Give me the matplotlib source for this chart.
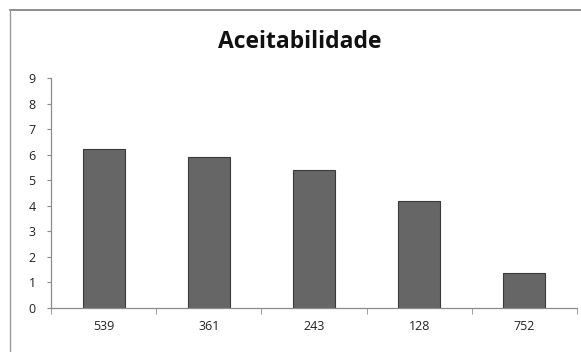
import matplotlib
matplotlib.use("Agg")
import matplotlib.pyplot as plt
from matplotlib.lines import Line2D
import numpy as np

# sample codes and mean acceptability scores
amostras = ["539", "361", "243", "128", "752"]
notas = [6.21, 5.92, 5.40, 4.20, 1.38]

plt.rcParams['font.family'] = ['Open Sans', 'DejaVu Sans']

fig = plt.figure(figsize=(5.81, 3.52), dpi=100)
W, H = 581, 352
ax = fig.add_axes([51 / W, (H - 308) / H, (577 - 51) / W, (308 - 78) / H])

x = np.arange(len(amostras))
ax.bar(x, notas, width=0.4, color="#666666", edgecolor="#3a3a3a", linewidth=0.8)

ax.set_xlim(-0.5, len(amostras) - 0.5)
ax.set_ylim(0, 9)
ax.set_yticks(range(0, 10))
ax.set_xticks(x)
ax.set_xticklabels(amostras)
ax.set_xticks(np.arange(-0.5, len(amostras)), minor=True)

for s in ["top", "right"]:
    ax.spines[s].set_visible(False)
for s in ["left", "bottom"]:
    ax.spines[s].set_color("#8c8c8c")
    ax.spines[s].set_linewidth(0.9)

ax.tick_params(axis="y", which="major", length=3, color="#8c8c8c", labelsize=9, labelcolor="#222222", pad=8)
ax.tick_params(axis="x", which="major", length=0, labelsize=9, labelcolor="#222222", pad=9)
ax.tick_params(axis="x", which="minor", length=4, color="#8c8c8c", direction="out")

fig.text(300 / W, 1 - 42 / H, "Aceitabilidade", ha="center", va="center",
         fontsize=16.5, fontweight="bold", color="#111111")

# chart frame
fig.add_artist(Line2D([10 / W, 1], [1 - 10 / H, 1 - 10 / H], color="#7a7a7a", linewidth=1.2, transform=fig.transFigure))
fig.add_artist(Line2D([10 / W, 10 / W], [0, 1 - 10 / H], color="#9a9a9a", linewidth=1.0, transform=fig.transFigure))

fig.savefig("out.png", dpi=100)
